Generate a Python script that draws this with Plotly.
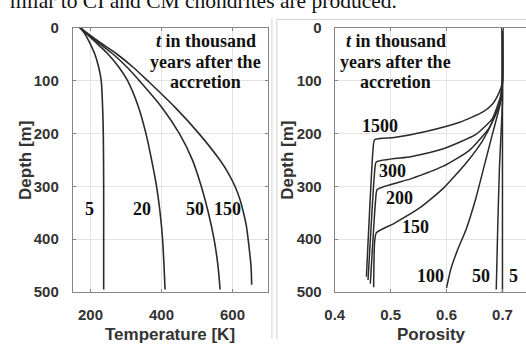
import plotly.graph_objects as go

# ---------------- data ----------------
# Left panel: temperature profiles (T [K] vs depth [m]) for t = 5, 20, 50, 150 kyr
temp_times = ["5", "20", "50", "150"]
temp_5 = [170, 182, 195, 212, 223, 230, 234, 236, 237, 237, 237]
depth_5 = [0, 10, 25, 50, 75, 100, 150, 200, 300, 400, 495]
temp_20 = [170, 210, 249, 280, 304, 335, 356, 372, 386, 396, 403, 407, 410]
depth_20 = [0, 25, 50, 75, 100, 150, 200, 250, 300, 350, 400, 450, 495]
temp_50 = [170, 215, 263, 303, 337, 400, 450, 487, 512, 532, 548, 559, 565]
depth_50 = [0, 25, 50, 75, 100, 150, 200, 250, 300, 350, 400, 450, 495]
temp_150 = [170, 220, 274, 320, 360, 437, 505, 564, 588, 607, 621, 631, 639, 644, 652, 654]
depth_150 = [0, 25, 50, 75, 100, 150, 200, 250, 275, 300, 325, 350, 375, 400, 450, 486]

# Right panel: porosity profiles
por_5 = [0.70, 0.70]
pdep_5 = [0, 500]
por_50 = [0.70, 0.70, 0.6975, 0.6947, 0.6915, 0.6889]
pdep_50 = [0, 140, 200, 262, 380, 495]
por_100 = [0.70, 0.70, 0.6965, 0.6819, 0.6673, 0.6526, 0.6351, 0.6187, 0.6070, 0.600]
pdep_100 = [0, 100, 142, 202, 262, 322, 381, 423, 459, 492]
por_150 = [0.70, 0.70, 0.6982, 0.6848, 0.6643, 0.6351, 0.5942, 0.5532, 0.5064, 0.4743, 0.4713, 0.4696]
pdep_150 = [0, 100, 133, 172, 214, 256, 304, 340, 370, 388, 406, 491]
por_200 = [0.70, 0.70, 0.6982, 0.6936, 0.6760, 0.6409, 0.5942, 0.5357, 0.4760, 0.4731, 0.4637]
pdep_200 = [0, 100, 127, 148, 190, 232, 262, 286, 306, 327, 484]
por_300 = [0.70, 0.70, 0.6977, 0.6965, 0.6819, 0.6526, 0.5942, 0.5357, 0.4743, 0.4713, 0.4596]
pdep_300 = [0, 100, 121, 130, 172, 202, 229, 244, 254, 274, 477]
por_1500 = [0.70, 0.70, 0.6994, 0.6936, 0.6819, 0.6643, 0.6234, 0.5649, 0.5064, 0.4713, 0.4684, 0.4567]
pdep_1500 = [0, 100, 106, 124, 145, 160, 179, 196, 208, 212, 232, 471]

# curve labels (text, x, depth)
left_labels = ["5", "20", "50", "150"]
left_label_x = [196, 346, 493, 585]
left_label_d = [342, 342, 342, 342]
right_labels = ["1500", "300", "200", "150", "100", "50", "5"]
right_label_x = [0.4802, 0.5026, 0.5161, 0.5452, 0.5716, 0.6614, 0.7199]
right_label_d = [186.6, 270.5, 322.6, 377.1, 469.4, 469.4, 469.4]

note_lines = ["<i>t</i> in thousand", "years after the", "accretion"]
note_depths = [26, 65.6, 103]
left_note_x = 525
right_note_x = 0.5088

y_ticks = [0, 100, 200, 300, 400, 500]
x1_ticks = [200, 400, 600]
x2_ticks = [0.4, 0.5, 0.6, 0.7]
x2_ticktext = ["0.4", "0.5", "0.6", "0.7"]

header_text = "milar to CI and CM chondrites are produced."

# ---------------- figure ----------------
W, H = 526, 347
line_col = "#2b2b2b"
fig = go.Figure()

for tx, dp in [(temp_5, depth_5), (temp_20, depth_20), (temp_50, depth_50), (temp_150, depth_150)]:
    fig.add_trace(go.Scatter(x=tx, y=dp, mode="lines", xaxis="x", yaxis="y",
                             line=dict(color=line_col, width=1.6, shape="spline", smoothing=0.8),
                             showlegend=False, hoverinfo="skip"))

for px_, dp in [(por_5, pdep_5), (por_50, pdep_50), (por_100, pdep_100), (por_150, pdep_150),
                (por_200, pdep_200), (por_300, pdep_300), (por_1500, pdep_1500)]:
    fig.add_trace(go.Scatter(x=px_, y=dp, mode="lines", xaxis="x2", yaxis="y2",
                             line=dict(color=line_col, width=1.5, shape="spline", smoothing=0.5),
                             showlegend=False, hoverinfo="skip"))

ydom = [1 - 297.7 / H, 1 - 19.5 / H]
tickfont = dict(family="Liberation Sans, Arial", size=15, color="#333333", weight="bold")
axis_common = dict(showgrid=True, gridcolor="#e3e3e3", gridwidth=1, zeroline=False,
                   showline=True, linecolor="#858585", linewidth=1,
                   ticks="inside", ticklen=3, tickcolor="#858585", tickfont=tickfont)

fig.update_layout(
    width=W, height=H, autosize=False,
    margin=dict(l=0, r=0, t=0, b=0),
    paper_bgcolor="white", plot_bgcolor="white",
    xaxis=dict(domain=[64 / W, 263 / W], range=[150, 700], tickvals=x1_ticks,
               anchor="y", mirror="ticks", ticklabelstandoff=9, **axis_common),
    yaxis=dict(domain=ydom, range=[500, 0], tickvals=y_ticks, anchor="x",
               mirror="ticks", ticklabelstandoff=10, **axis_common),
    xaxis2=dict(domain=[331 / W, 1.0], range=[0.4, 0.4 + 195 / 570], tickvals=x2_ticks,
                ticktext=x2_ticktext, anchor="y2", mirror="ticks", ticklabelstandoff=9, **axis_common),
    yaxis2=dict(domain=ydom, range=[500, 0], tickvals=y_ticks, anchor="x2",
                mirror=False, ticklabelstandoff=9, **axis_common),
)

serif = dict(family="Liberation Serif, Times New Roman", size=18, color="#111111", weight="bold")
ann = []
for t, x, d in zip(left_labels, left_label_x, left_label_d):
    ann.append(dict(text=t, x=x, y=d, xref="x", yref="y", showarrow=False, font=serif,
                    xanchor="center", yanchor="middle"))
for t, x, d in zip(right_labels, right_label_x, right_label_d):
    ann.append(dict(text=t, x=x, y=d, xref="x2", yref="y2", showarrow=False, font=serif,
                    xanchor="center", yanchor="middle"))
for t, d in zip(note_lines, note_depths):
    ann.append(dict(text=t, x=left_note_x, y=d, xref="x", yref="y", showarrow=False, font=serif,
                    xanchor="center", yanchor="middle"))
    ann.append(dict(text=t, x=right_note_x, y=d, xref="x2", yref="y2", showarrow=False, font=serif,
                    xanchor="center", yanchor="middle"))

title_font = dict(family="Liberation Sans, Arial", size=17, color="#333333", weight="bold")
ann.append(dict(text="Temperature [K]", x=(64 + 263) / 2 / W, y=-7 / H, xref="paper", yref="paper",
                showarrow=False, font=title_font, xanchor="center", yanchor="bottom"))
ann.append(dict(text="Porosity", x=430 / W, y=-7 / H, xref="paper", yref="paper",
                showarrow=False, font=title_font, xanchor="center", yanchor="bottom"))
ann.append(dict(text="Depth [m]", x=15 / W, y=1 - 159 / H, xref="paper", yref="paper",
                showarrow=False, font=title_font, textangle=-90, xanchor="center", yanchor="middle"))
ann.append(dict(text="Depth [m]", x=283 / W, y=1 - 159 / H, xref="paper", yref="paper",
                showarrow=False, font=title_font, textangle=-90, xanchor="center", yanchor="middle"))
ann.append(dict(text=header_text, x=-2 / W, y=1 - 6 / H, xref="paper", yref="paper",
                xanchor="left", yanchor="bottom", showarrow=False,
                font=dict(family="Liberation Serif, Times New Roman", size=21.5, color="#111111")))
fig.update_layout(annotations=ann)

# light frame lines of the original image panels
frame = dict(color="#d2d2d2", width=1)
fig.add_shape(type="line", xref="paper", yref="paper", x0=267 / W, x1=267 / W, y0=0, y1=1 - 10 / H, line=frame)
fig.add_shape(type="line", xref="paper", yref="paper", x0=272 / W, x1=272 / W, y0=0, y1=1 - 11 / H, line=frame)
fig.add_shape(type="line", xref="paper", yref="paper", x0=272 / W, x1=1, y0=1 - 11 / H, y1=1 - 11 / H, line=frame)

fig.write_html("out.html")
